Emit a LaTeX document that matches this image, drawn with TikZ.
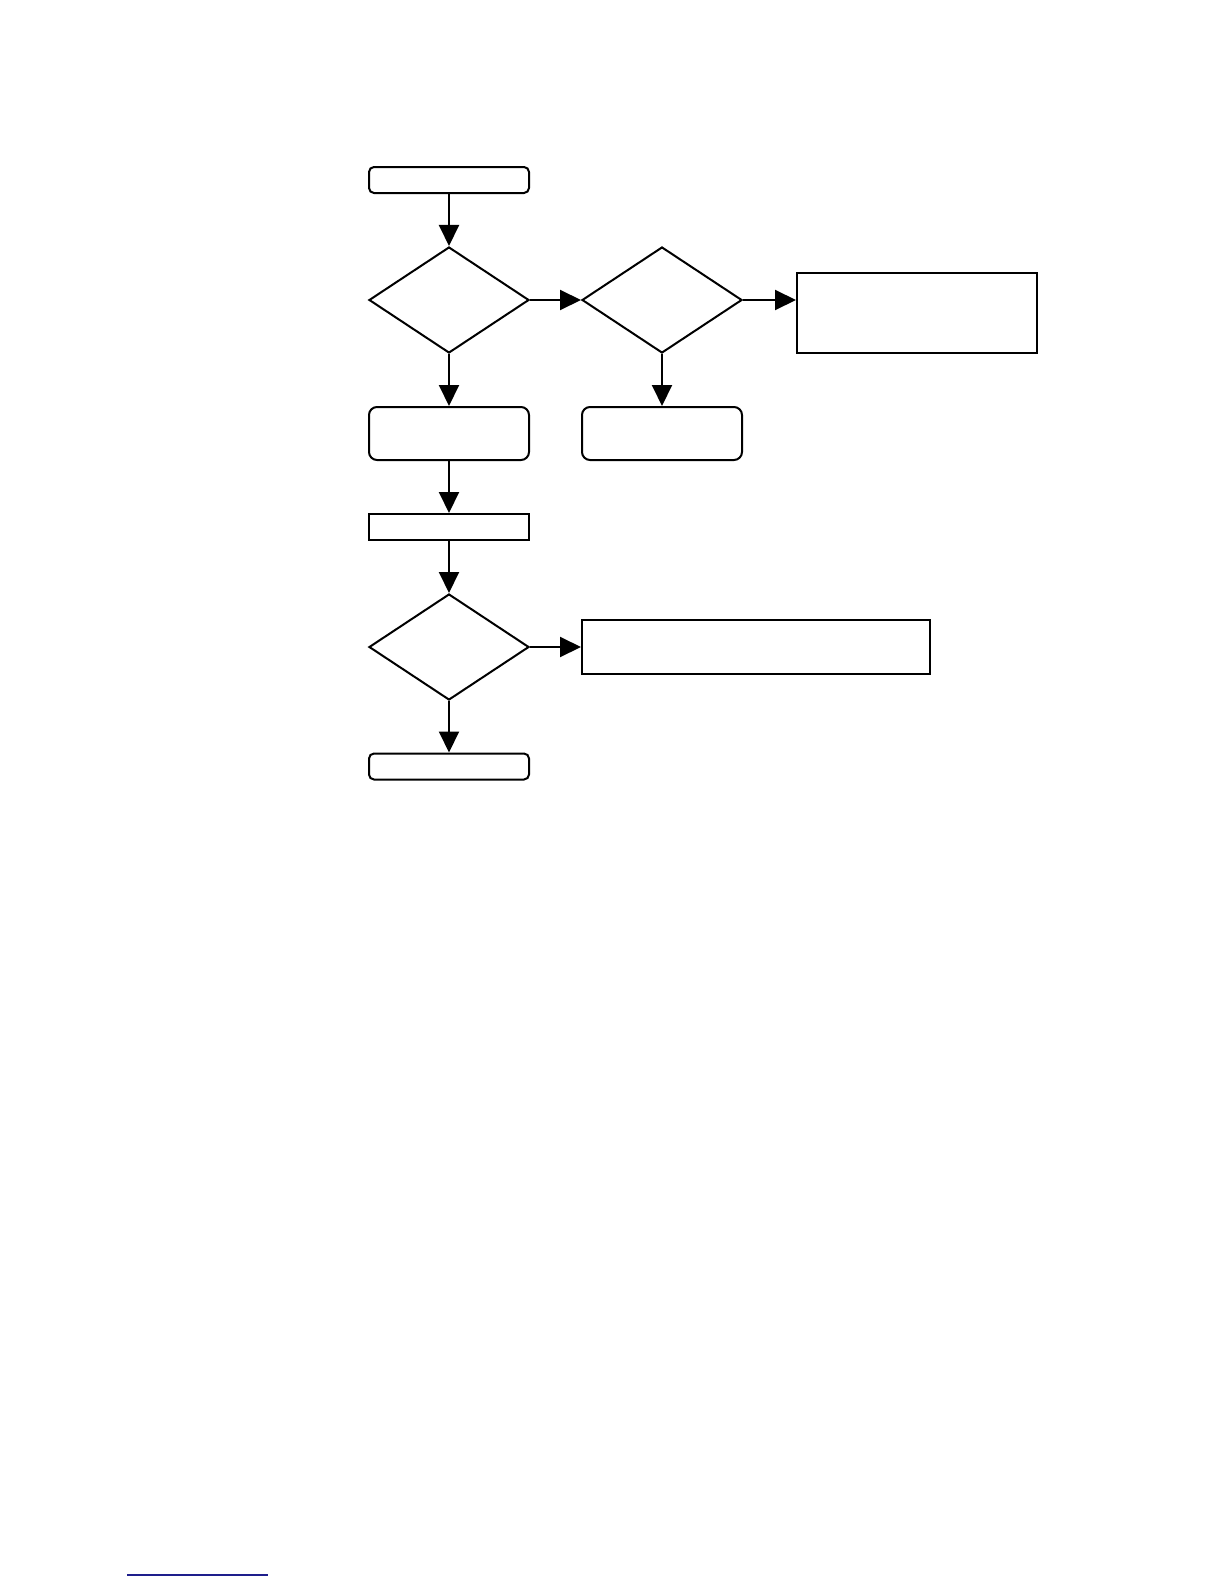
\documentclass[tikz,border=0pt]{standalone}
\usepackage{xcolor}
\usepackage{tikz}
\usetikzlibrary{shapes.geometric, arrows.meta, positioning}
\definecolor{linkblue}{RGB}{30,30,140}

\begin{document}
\begin{tikzpicture}[
    x=0.5pt, y=-0.5pt,
    box/.style={rectangle, draw, line width=1pt, rounded corners=2.5pt, minimum width=80pt, minimum height=13pt, inner sep=0pt},
    bigbox/.style={box, rounded corners=4pt, minimum height=26.5pt},
    plain/.style={rectangle, draw, line width=1pt, inner sep=0pt},
    decide/.style={diamond, draw, line width=1pt, minimum width=80pt, minimum height=53pt, inner sep=0pt},
    arr/.style={-{Triangle[length=10.5pt, width=10pt]}, line width=1pt}
]
\useasboundingbox (0,0) rectangle (1224,1584);

% Top row
\node[box] (start) at (449,180) {};
\node[decide] (check1) at (449,300) {};
\node[decide] (check2) at (662,300) {};
\node[plain, minimum width=120pt, minimum height=40pt] (fault) at (917,313) {};

\draw[arr] (start) -- (check1);
\draw[arr] (check1) -- (check2);
\draw[arr] (check2.east) -- (check2.east -| fault.west);

% Second row
\node[bigbox] (fixA) at (449,433.5) {};
\node[bigbox] (fixB) at (662,433.5) {};

\draw[arr] (check1) -- (fixA);
\draw[arr] (check2) -- (fixB);

% Lower part
\node[plain, minimum width=80pt, minimum height=13pt] (step) at (449,527) {};
\node[decide] (check3) at (449,647) {};
\node[plain, minimum width=174pt, minimum height=27pt] (repair) at (756,647) {};
\node[box] (finish) at (449,766.5) {};

\draw[arr] (fixA) -- (step);
\draw[arr] (step) -- (check3);
\draw[arr] (check3) -- (repair);
\draw[arr] (check3) -- (finish);

% Link line at the foot
\draw[linkblue, line width=0.6pt] (127,1575) -- (268,1575);
\end{tikzpicture}
\end{document}
